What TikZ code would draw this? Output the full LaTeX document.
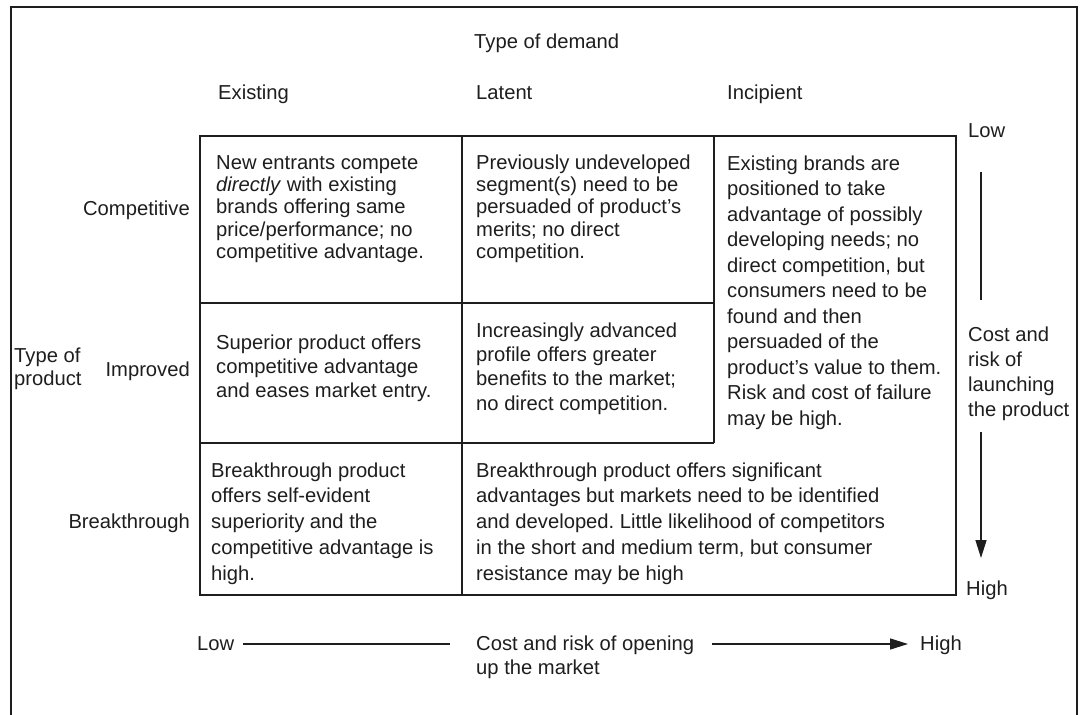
\documentclass[tikz,border=0pt]{standalone}
\usepackage{fontspec}
\setmainfont{Liberation Sans}
\usetikzlibrary{arrows.meta}
\definecolor{ink}{HTML}{1E1E1E}
\frenchspacing
\begin{document}
\begin{tikzpicture}[x=1pt,y=-1pt,
  lbl/.style={inner sep=0pt, anchor=base west, align=left, text=ink, font=\fontsize{20.2}{24.5}\selectfont},
  lblr/.style={lbl, anchor=base east, align=right},
  sp/.style={font=\fontsize{20.2}{#1}\selectfont},
  gridline/.style={draw=ink, line width=2.2pt},
  frameline/.style={draw=ink, line width=2.6pt},
  axis/.style={draw=ink, line width=1.4pt},
  axisarrow/.style={axis, -{Triangle[length=18pt,width=11pt]}}]
\useasboundingbox[fill=white] (0,0) rectangle (1080,715);
% outer frame
\draw[frameline] (11,720) -- (11,7) -- (1077,7) -- (1077,720);
% grid
\draw[gridline] (200,136) rectangle (956,595);
\draw[gridline] (462,136) -- (462,595);
\draw[gridline] (714,136) -- (714,443);
\draw[gridline] (200,303) -- (714,303);
\draw[gridline] (200,443) -- (714,443);
% column headers
\node[lbl] (tod) at (474,48) {Type of demand};
\node[lbl] (hex) at (218,99) {Existing};
\node[lbl] (hla) at (476,99) {Latent};
\node[lbl] (hin) at (727,99) {Incipient};
% row headers (base anchor = last line's baseline)
\node[lblr] (rcomp) at (190,215) {Competitive};
\node[lblr] (rimp) at (190,376) {Improved};
\node[lblr] (rbrk) at (190,528) {Breakthrough};
\node[lbl, sp=23] (top) at (14,385) {Type of\\product};
% cells
\node[lbl, sp=22.4] (c11) at (216,258.6) {New entrants compete\\\textit{directly} with existing\\brands offering same\\price/performance; no\\competitive advantage.};
\node[lbl, sp=22.4] (c12) at (476,258.6) {Previously undeveloped\\segment(s) need to be\\persuaded of product's\\merits; no direct\\competition.};
\node[lbl, sp=25.5] (c13) at (727,425) {Existing brands are\\positioned to take\\advantage of possibly\\developing needs; no\\direct competition, but\\consumers need to be\\found and then\\persuaded of the\\product's value to them.\\Risk and cost of failure\\may be high.};
\node[lbl, sp=24] (c21) at (216,397) {Superior product offers\\competitive advantage\\and eases market entry.};
\node[lbl, sp=24.3] (c22) at (476,410) {Increasingly advanced\\profile offers greater\\benefits to the market;\\no direct competition.};
\node[lbl, sp=25.7] (c31) at (211,580) {Breakthrough product\\offers self-evident\\superiority and the\\competitive advantage is\\high.};
\node[lbl, sp=25.7] (c32) at (476,580) {Breakthrough product offers significant\\advantages but markets need to be identified\\and developed. Little likelihood of competitors\\in the short and medium term, but consumer\\resistance may be high};
% right axis
\node[lbl] (rlow) at (968,137) {Low};
\node[lbl] (rhigh) at (966,595) {High};
\node[lbl, sp=25] (rcost) at (968,416) {Cost and\\risk of\\launching\\the product};
\coordinate (v1) at (981,172);
\coordinate (v2) at (981,300);
\coordinate (v3) at (981,432);
\coordinate (v4) at (981,558);
\draw[axis] (v1) -- (v2);
\draw[axisarrow] (v3) -- (v4);
% bottom axis
\node[lbl] (blow) at (197,650) {Low};
\node[lbl, sp=24] (bcost) at (476,674) {Cost and risk of opening\\up the market};
\node[lbl] (bhigh) at (920,650) {High};
\coordinate (h1) at (243,644);
\coordinate (h2) at (450,644);
\coordinate (h3) at (712,644);
\coordinate (h4) at (908,644);
\draw[axis] (h1) -- (h2);
\draw[axisarrow] (h3) -- (h4);
\end{tikzpicture}
\end{document}
